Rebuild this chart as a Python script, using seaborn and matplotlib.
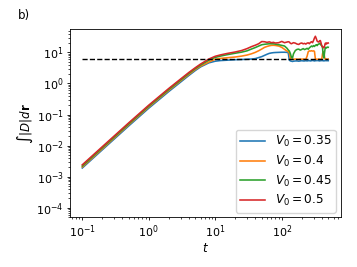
import numpy as np
import pandas as pd
import matplotlib
matplotlib.use('Agg')
import matplotlib.pyplot as plt
import seaborn as sns

# tiempo (eje x, log)
t = [0.1, 0.2, 0.5, 1, 2, 3, 4, 5, 6, 8, 10, 12, 15, 20, 25, 30, 35, 40, 45, 50,
     55, 60, 65, 70, 75, 80, 90, 100, 110, 120, 125, 130, 135, 140, 145, 150, 160, 170, 180, 190,
     200, 210, 220, 230, 240, 250, 260, 270, 280, 290, 300, 310, 320, 330, 340, 350, 360, 370, 380, 390,
     400, 410, 420, 430, 440, 450, 460, 470, 480, 490, 500]

v035 = [0.0019, 0.0073, 0.043, 0.16, 0.55, 1.1, 1.8, 2.6, 3.4, 4.6, 5.2, 5.45, 5.6, 5.8, 5.9, 6.0, 6.1, 6.3, 6.8, 7.3,
        8.0, 8.7, 9.3, 9.6, 9.8, 9.9, 10.0, 10.1, 10.1, 10.0, 9.8, 5.6, 5.3, 5.2, 5.1, 5.2, 5.3, 5.3, 5.2, 5.3,
        5.4, 5.3, 5.3, 5.4, 5.3, 5.4, 5.4, 5.3, 5.4, 5.5, 5.4, 5.3, 5.4, 5.4, 5.5, 5.4, 5.4, 5.3, 5.4, 5.4,
        5.5, 5.4, 5.4, 5.3, 5.4, 5.4, 5.5, 5.4, 5.4, 5.4, 5.4]

v04 = [0.00205, 0.0079, 0.047, 0.175, 0.60, 1.2, 1.95, 2.8, 3.6, 4.9, 6.0, 6.4, 6.7, 7.1, 7.6, 8.2, 9.0, 10.0, 11.3, 12.8,
       14.5, 15.5, 16.3, 16.8, 16.9, 16.7, 16.0, 14.5, 12.5, 11.0, 10.5, 9.5, 6.2, 6.0, 6.0, 6.0, 6.1, 6.0, 6.0, 6.1,
       6.0, 6.1, 6.0, 6.0, 7.5, 10.5, 11.2, 11.0, 11.3, 11.0, 11.2, 10.8, 6.1, 6.0, 6.0, 6.0, 6.1, 6.0, 6.0, 6.0,
       6.2, 9.0, 10.5, 10.3, 7.0, 6.0, 6.0, 6.1, 6.0, 6.0, 6.1]

v045 = [0.0022, 0.0085, 0.05, 0.186, 0.64, 1.28, 2.1, 3.0, 3.9, 5.6, 6.9, 7.6, 8.4, 9.4, 10.2, 11.2, 12.8, 14.3, 16.0, 17.6,
        18.2, 18.6, 18.9, 18.9, 18.8, 18.4, 17.6, 16.8, 16.0, 13.5, 12.0, 11.0, 9.0, 6.8, 6.6, 9.0, 11.5, 12.5, 12.7, 11.8,
        12.5, 13.2, 12.3, 12.8, 13.5, 12.6, 14.0, 15.0, 16.0, 15.2, 16.5, 15.5, 16.8, 17.6, 16.5, 18.0, 18.5, 19.5, 19.0, 17.0,
        16.5, 14.0, 8.0, 6.6, 10.0, 14.0, 14.5, 13.8, 14.5, 14.8, 14.6]

v05 = [0.0024, 0.0092, 0.054, 0.2, 0.69, 1.38, 2.25, 3.2, 4.2, 6.1, 7.5, 8.3, 9.2, 10.3, 11.5, 13.2, 15.3, 17.0, 19.0, 22.3,
       22.0, 21.0, 21.8, 20.5, 21.0, 20.0, 20.5, 22.5, 20.5, 21.5, 22.0, 21.5, 19.5, 19.0, 19.8, 20.5, 19.8, 18.5, 18.0, 19.5,
       20.0, 18.8, 19.5, 18.5, 19.8, 20.3, 19.0, 21.0, 22.0, 20.5, 24.0, 29.0, 33.0, 28.0, 23.0, 22.0, 21.5, 23.5, 24.0, 20.0,
       16.0, 15.0, 14.5, 14.0, 16.0, 19.5, 20.0, 18.5, 20.0, 19.5, 20.0]

etiquetas = ['$V_0 = 0.35$', '$V_0 = 0.4$', '$V_0 = 0.45$', '$V_0 = 0.5$']

# linea de referencia
t_ref = [0.1, 500]
y_ref = [6.3, 6.3]

df = pd.concat([
    pd.DataFrame({'t': t, 'val': v, 'V0': lab})
    for v, lab in zip([v035, v04, v045, v05], etiquetas)
])

fig = plt.figure(figsize=(3.57, 2.67), dpi=100)
ax = fig.add_axes([0.196, 0.186, 0.758, 0.704])

sns.lineplot(data=df, x='t', y='val', hue='V0', palette='tab10',
             linewidth=1.15, ax=ax, sort=False)
ax.plot(t_ref, y_ref, color='k', linestyle='--', linewidth=1.0)

ax.set_xscale('log')
ax.set_yscale('log')
ax.set_xlim(0.0653, 766)
ax.set_ylim(4.9e-5, 55)

ax.set_xlabel('$t$', fontsize=8.5, labelpad=1)
ax.set_ylabel(r'$\int |D| d\mathbf{r}$', fontsize=8.5, labelpad=1)
ax.tick_params(which='major', labelsize=8, length=2.5, width=0.6, pad=2)
ax.tick_params(which='minor', length=1.4, width=0.5)
for s in ax.spines.values():
    s.set_linewidth(0.6)

sns.move_legend(ax, 'lower right', title=None, fontsize=8.7, frameon=True,
                handlelength=2.1, borderpad=0.35, labelspacing=0.38,
                borderaxespad=0.4)

fig.text(0.05, 0.93, 'b)', fontsize=8.5)

fig.savefig('out.png', dpi=100)
